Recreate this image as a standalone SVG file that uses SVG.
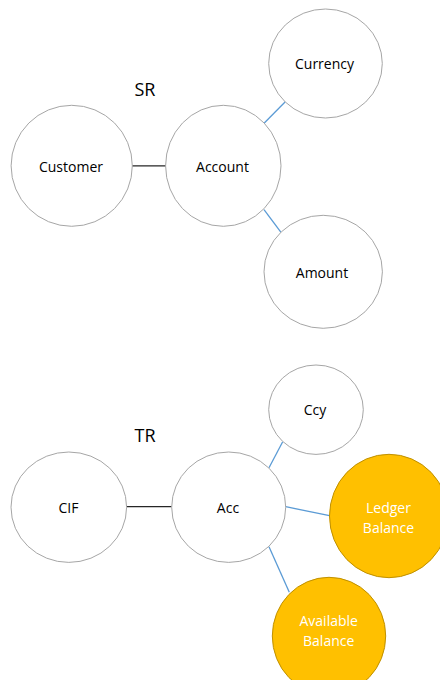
<svg xmlns="http://www.w3.org/2000/svg" width="440" height="680" viewBox="0 0 440 680">
  <style>
    .node { fill: #ffffff; stroke: #a6a6a6; stroke-width: 1; }
    .hot { fill: #ffc000; stroke: #bf9000; stroke-width: 1; }
    .lbl { font-family: "Open Sans", "Liberation Sans", sans-serif; font-size: 14px; fill: #000000; text-anchor: middle; }
    .lbl-w { font-family: "Open Sans", "Liberation Sans", sans-serif; font-size: 14px; fill: #ffffff; text-anchor: middle; }
    .title { font-family: "Open Sans", "Liberation Sans", sans-serif; font-size: 18px; fill: #000000; text-anchor: middle; }
    .link-k { stroke: #262626; stroke-width: 1.3; }
    .link-b { stroke: #5b9bd5; stroke-width: 1.3; }
  </style>
  <rect width="440" height="680" fill="#ffffff"/>

  <!-- connectors -->
  <g id="connectors">
    <line class="link-k" x1="132" y1="165.8" x2="166" y2="165.8"/>
    <line class="link-b" x1="264.3" y1="123" x2="285.3" y2="101.7"/>
    <line class="link-b" x1="264" y1="209.7" x2="281" y2="232.3"/>
    <line class="link-k" x1="126.7" y1="506.7" x2="171.7" y2="506.7"/>
    <line class="link-b" x1="269" y1="467.7" x2="282.7" y2="441.7"/>
    <line class="link-b" x1="285.7" y1="506.7" x2="329.5" y2="515.7"/>
    <line class="link-b" x1="269" y1="546.7" x2="289.3" y2="592.3"/>
  </g>

  <!-- SR model -->
  <text class="title" x="145" y="95.5">SR</text>
  <g id="customer">
    <ellipse class="node" cx="71.7" cy="165.8" rx="60.6" ry="60.5"/>
    <text class="lbl" x="71" y="171.5">Customer</text>
  </g>
  <g id="account">
    <ellipse class="node" cx="223.3" cy="165.8" rx="57.7" ry="60.5"/>
    <text class="lbl" x="222.5" y="171.5">Account</text>
  </g>
  <g id="currency">
    <ellipse class="node" cx="325.5" cy="63.5" rx="56.8" ry="54.5"/>
    <text class="lbl" x="324.5" y="69">Currency</text>
  </g>
  <g id="amount">
    <ellipse class="node" cx="323.2" cy="271.8" rx="59.2" ry="56.5"/>
    <text class="lbl" x="322" y="277.5">Amount</text>
  </g>

  <!-- TR model -->
  <text class="title" x="145" y="442">TR</text>
  <g id="cif">
    <ellipse class="node" cx="68.8" cy="507.2" rx="57.8" ry="55.2"/>
    <text class="lbl" x="68.5" y="512.5">CIF</text>
  </g>
  <g id="acc">
    <ellipse class="node" cx="228.7" cy="507.2" rx="57" ry="55.2"/>
    <text class="lbl" x="228" y="512.5">Acc</text>
  </g>
  <g id="ccy">
    <ellipse class="node" cx="316" cy="409.7" rx="47.3" ry="44.7"/>
    <text class="lbl" x="315" y="415">Ccy</text>
  </g>
  <g id="ledger-balance">
    <ellipse class="hot" cx="389" cy="516" rx="59.5" ry="61.7"/>
    <text class="lbl-w" x="388.5" y="512.7">Ledger</text>
    <text class="lbl-w" x="388.5" y="532.5">Balance</text>
  </g>
  <g id="available-balance">
    <ellipse class="hot" cx="329" cy="636" rx="56.7" ry="58.7"/>
    <text class="lbl-w" x="328.7" y="626.2">Available</text>
    <text class="lbl-w" x="328.7" y="646">Balance</text>
  </g>
</svg>
